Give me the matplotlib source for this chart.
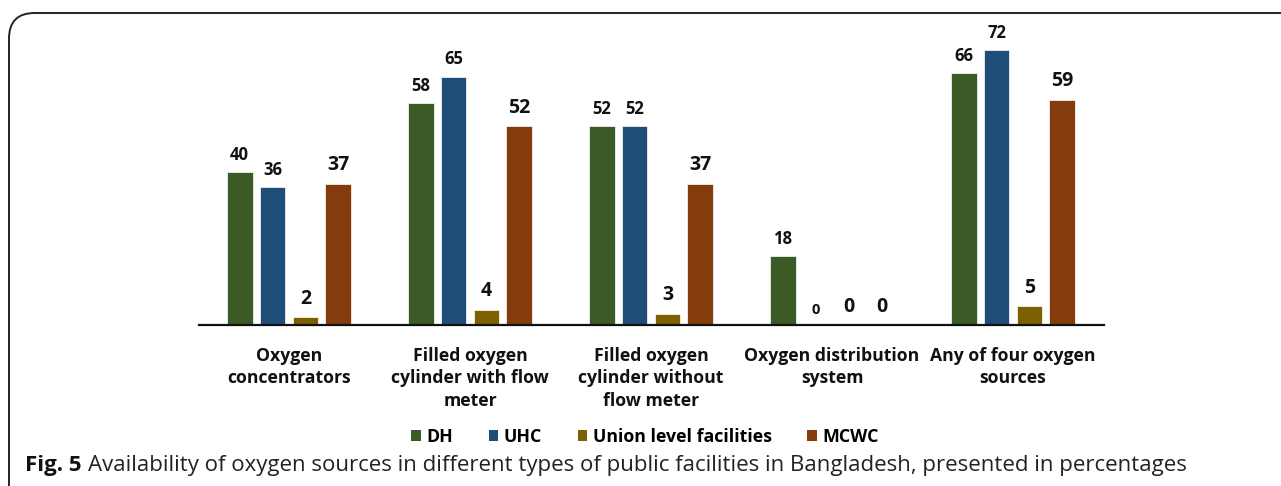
import matplotlib
matplotlib.use("Agg")
import matplotlib.pyplot as plt
from matplotlib.patches import FancyBboxPatch, Patch
import numpy as np

categories = ["Oxygen\nconcentrators",
              "Filled oxygen\ncylinder with flow\nmeter",
              "Filled oxygen\ncylinder without\nflow meter",
              "Oxygen distribution\nsystem",
              "Any of four oxygen\nsources"]
series_names = ["DH", "UHC", "Union level facilities", "MCWC"]
dh = [40, 58, 52, 18, 66]
uhc = [36, 65, 52, 0, 72]
union = [2, 4, 3, 0, 5]
mcwc = [37, 52, 37, 0, 59]
values = [dh, uhc, union, mcwc]
colors = ["#3B5A25", "#1F4D78", "#7F6000", "#843C0C"]
label_sizes = [12, 12, 14, 14]

plt.rcParams['font.family'] = ['Open Sans', 'DejaVu Sans']
W, H = 1281, 486
fig = plt.figure(figsize=(W/100, H/100), dpi=100)

# rounded frame
frame = FancyBboxPatch((9/W, -0.2), 1.3, (H-13)/H + 0.2,
                       boxstyle="round,pad=0,rounding_size=0.02",
                       transform=fig.transFigure, fill=False,
                       edgecolor="#222222", linewidth=1.4, mutation_aspect=W/H)
fig.patches.append(frame)

ax = fig.add_axes([198.5/W, (H-325)/H, 905/W, 305.6/H])
x = np.arange(len(categories))
step = 0.182
bw = 0.143
for i, (vals, col, fs) in enumerate(zip(values, colors, label_sizes)):
    xs = x + (i - 1.5) * step
    ax.bar(xs, vals, width=bw, color=col, edgecolor="white", linewidth=0.5)
    for xi, v in zip(xs, vals):
        size = fs
        if i == 1 and v == 0:
            size = 10.5
        ax.annotate(str(v), (xi, v), xytext=(0, 6), textcoords="offset points",
                    ha="center", va="bottom", fontsize=size, fontweight="bold",
                    color="#111111")

ax.set_xlim(-0.5, 4.5)
ax.set_ylim(0, 80)
for s in ["top", "right", "left"]:
    ax.spines[s].set_visible(False)
ax.spines["bottom"].set_linewidth(1.6)
ax.spines["bottom"].set_color("#111111")
ax.set_yticks([])
ax.set_xticks(x)
ax.set_xticklabels(categories, fontsize=12.7, fontweight="bold", color="#111111",
                   linespacing=1.3)
ax.tick_params(axis="x", length=0, pad=16)

handles = [Patch(facecolor=c, label=n) for c, n in zip(colors, series_names)]
fig.legend(handles=handles, loc="center", bbox_to_anchor=(645/W, (H-437)/H),
           ncol=4, frameon=False, prop={"size": 12.8, "weight": "bold"},
           handlelength=0.55, handleheight=0.55, handletextpad=0.3,
           columnspacing=2.0)

t1 = fig.text(25/W, (H-465)/H, "Fig. 5", fontsize=16, fontweight="bold",
              va="center", ha="left", color="#111111")
fig.canvas.draw()
bb = t1.get_window_extent()
fig.text((bb.x1 + 6)/W, (H-465)/H,
         "Availability of oxygen sources in different types of public facilities in Bangladesh, presented in percentages",
         fontsize=16, va="center", ha="left", color="#222222")

fig.savefig("out.png", dpi=100)
